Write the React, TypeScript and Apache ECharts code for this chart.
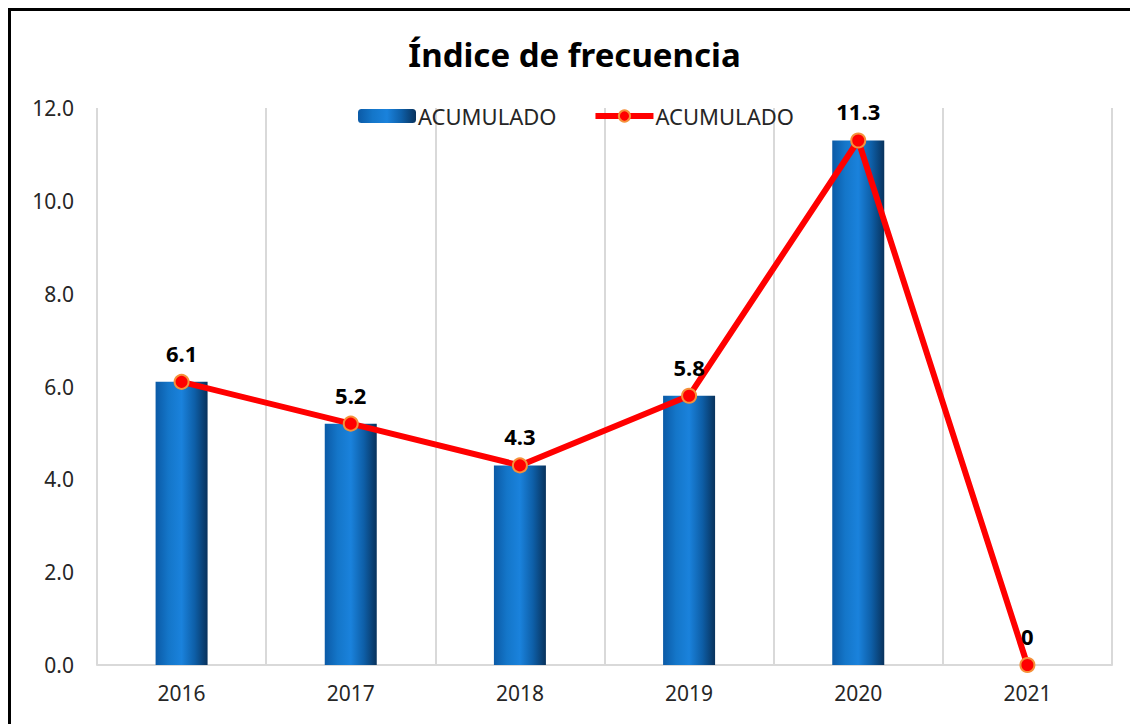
import React, { useEffect, useRef } from "react";
import * as echarts from "echarts";

const categories = ["2016", "2017", "2018", "2019", "2020", "2021"];
const barValues = [6.1, 5.2, 4.3, 5.8, 11.3, 0];
const lineValues = [6.1, 5.2, 4.3, 5.8, 11.3, 0];
const yTicks = { min: 0, max: 12, interval: 2 };
const legendLabel = "ACUMULADO";
const titleText = "Índice de frecuencia";

export default function App() {
  const ref = useRef<HTMLDivElement>(null);
  useEffect(() => {
    if (!ref.current) return;
    const chart = echarts.init(ref.current, null, { renderer: "svg" });
    const font = "'Noto Sans', sans-serif";
    chart.setOption({
      animation: false,
      backgroundColor: "#ffffff",
      title: {
        text: titleText,
        left: "center",
        top: 22,
        textStyle: { fontFamily: font, fontSize: 33, fontWeight: "bold", color: "#000" },
      },
      legend: {
        left: 342,
        top: 89,
        itemWidth: 58,
        itemHeight: 14,
        itemGap: 36,
        data: ["bar", { name: "line", lineStyle: { width: 6 } }],
        formatter: () => legendLabel,
        textStyle: { fontFamily: font, fontSize: 22, color: "#262626", padding: [0, 0, 0, -3] },
      },
      grid: { left: 86, right: 26, top: 97, bottom: 59 },
      xAxis: {
        type: "category",
        data: categories,
        boundaryGap: true,
        axisLine: { lineStyle: { color: "#d9d9d9", width: 2 } },
        axisTick: { show: false },
        splitLine: { show: true, lineStyle: { color: "#d9d9d9", width: 2 } },
        axisLabel: { fontFamily: font, fontSize: 21, color: "#262626", margin: 17 },
      },
      yAxis: {
        type: "value",
        min: yTicks.min,
        max: yTicks.max,
        interval: yTicks.interval,
        axisLine: { show: false },
        axisTick: { show: false },
        splitLine: { show: false },
        axisLabel: {
          fontFamily: font,
          fontSize: 21,
          color: "#262626",
          margin: 23,
          formatter: (v: number) => v.toFixed(1),
        },
      },
      series: [
        {
          name: "bar",
          type: "bar",
          data: barValues,
          barWidth: 52,
          itemStyle: {
            color: new echarts.graphic.LinearGradient(0, 0, 1, 0, [
              { offset: 0, color: "#0b5aa6" },
              { offset: 0.25, color: "#1476c9" },
              { offset: 0.5, color: "#1a82dc" },
              { offset: 0.75, color: "#0e5fa8" },
              { offset: 1, color: "#08325c" },
            ]),
          },
        },
        {
          name: "line",
          type: "line",
          data: lineValues,
          symbol: "circle",
          symbolSize: 14,
          lineStyle: { color: "#ff0000", width: 6 },
          itemStyle: { color: "#ff0000", borderColor: "#f5913a", borderWidth: 2 },
          label: {
            show: true,
            position: "top",
            distance: 10,
            fontFamily: font,
            fontSize: 22,
            fontWeight: "bold",
            color: "#000",
            formatter: (p: any) => String(p.value),
          },
          z: 5,
        },
      ],
    });
    return () => chart.dispose();
  }, []);
  return (
    <div
      style={{
        width: 1130,
        height: 716,
        borderLeft: "3px solid #000",
        borderTop: "3px solid #000",
        boxSizing: "border-box",
      }}
    >
      <div ref={ref} style={{ width: 1127, height: 713 }} />
    </div>
  );
}
